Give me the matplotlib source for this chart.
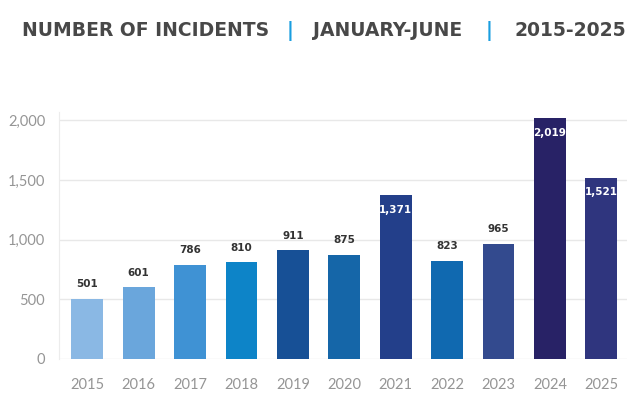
import matplotlib.pyplot as plt

years = ["2015", "2016", "2017", "2018", "2019", "2020", "2021", "2022", "2023", "2024", "2025"]
incidents = [501, 601, 786, 810, 911, 875, 1371, 823, 965, 2019, 1521]
bar_colors = ["#8ab8e4", "#6aa6dc", "#3f92d4", "#0d84c8", "#175096", "#1566a8",
              "#233f8a", "#1069b0", "#334a8e", "#282266", "#2f357e"]
inside_label = [False, False, False, False, False, False, True, False, False, True, True]
y_ticks = [0, 500, 1000, 1500, 2000]

fig = plt.figure(figsize=(6.38, 4.05), dpi=100)
ax = fig.add_axes([59 / 638, 46 / 405, (627 - 59) / 638, (359 - 112) / 405])

x = range(len(years))
ax.bar(x, incidents, width=0.62, color=bar_colors, zorder=3)

for i, v in enumerate(incidents):
    lab = f"{v:,}"
    if inside_label[i]:
        ax.annotate(lab, (i, v), xytext=(0, -7), textcoords="offset points",
                    ha="center", va="top", color="white", fontsize=7.5,
                    fontweight="bold", family="DejaVu Sans", zorder=4)
    else:
        ax.annotate(lab, (i, v), xytext=(0, 7), textcoords="offset points",
                    ha="center", va="bottom", color="#333333", fontsize=7.5,
                    fontweight="bold", family="DejaVu Sans", zorder=4)

ax.set_xlim(-0.55, 10.5)
ax.set_ylim(0, 2070)
ax.set_yticks(y_ticks)
ax.set_yticklabels([f"{t:,}" for t in y_ticks])
ax.set_xticks(list(x))
ax.set_xticklabels(years)
ax.grid(axis="y", color="#e8e8e8", linewidth=1, zorder=0)
for s in ["top", "right", "bottom"]:
    ax.spines[s].set_visible(False)
ax.spines["left"].set_color("#ececec")
ax.tick_params(length=0, labelsize=10.5, labelcolor="#959595")
ax.tick_params(axis="x", pad=14)
ax.tick_params(axis="y", pad=10)
for t in ax.get_xticklabels() + ax.get_yticklabels():
    t.set_family("Lato")
    t.set_fontweight("normal")

title_parts = [("NUMBER OF INCIDENTS", 22, "left", "#484848"), ("|", 290, "center", "#1a9ee0"),
               ("JANUARY-JUNE", 313, "left", "#484848"), ("|", 489, "center", "#1a9ee0"),
               ("2015-2025", 515, "left", "#484848")]
for txt, px, ha, col in title_parts:
    fig.text(px / 638, 1 - 31 / 405, txt, ha=ha, va="center", color=col,
             fontsize=13.5, fontweight="bold", family="DejaVu Sans")

fig.savefig("out.png", dpi=100)
